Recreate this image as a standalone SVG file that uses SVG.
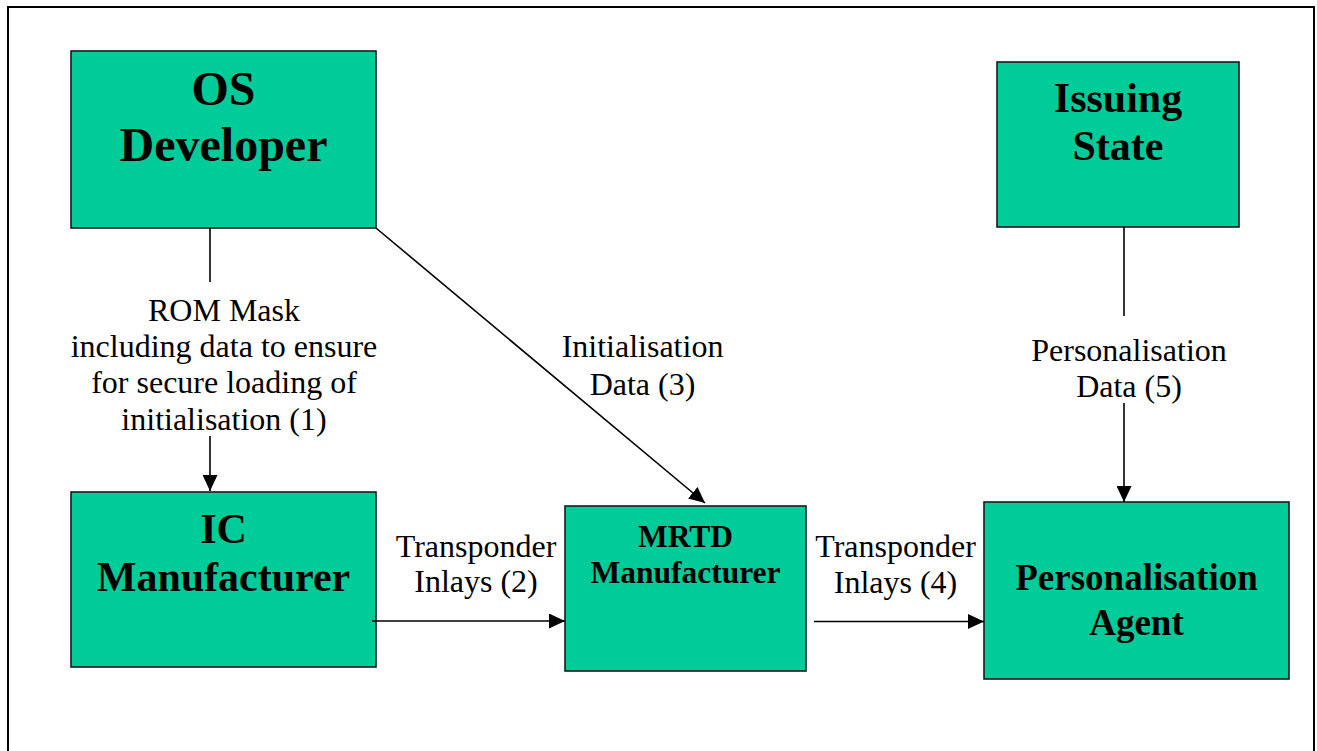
<svg xmlns="http://www.w3.org/2000/svg" width="1317" height="751" viewBox="0 0 1317 751">
<style>
.box{fill:#00CC99;stroke:#1a1a1a;stroke-width:1.6}
.bt{font-family:"Liberation Serif","Times New Roman",serif;font-weight:bold;fill:#000;text-anchor:middle}
.lt{font-family:"Liberation Serif","Times New Roman",serif;font-size:32px;fill:#000;text-anchor:middle}
.ln{stroke:#000;stroke-width:1.6;fill:none}
</style>
<defs>
<marker id="ah" markerUnits="userSpaceOnUse" markerWidth="17" markerHeight="15" refX="16" refY="7.5" orient="auto">
<path d="M0,0 L16,7.5 L0,15 Z" fill="#000"/>
</marker>
</defs>
<rect x="0" y="0" width="1317" height="751" fill="#fff"/>
<rect id="frame" x="8" y="7" width="1306" height="760" fill="none" stroke="#000" stroke-width="2"/>
<g id="os-developer">
<rect class="box" x="71" y="51" width="305" height="177"/>
<text class="bt" font-size="48" x="223.5" y="105">OS</text>
<text class="bt" font-size="48" x="223.5" y="161">Developer</text>
</g>
<g id="issuing-state">
<rect class="box" x="997" y="62" width="242" height="165"/>
<text class="bt" font-size="42" x="1118" y="112">Issuing</text>
<text class="bt" font-size="42" x="1118" y="160">State</text>
</g>
<g id="ic-manufacturer">
<rect class="box" x="71" y="492" width="305" height="175"/>
<text class="bt" font-size="42" x="223.5" y="543">IC</text>
<text class="bt" font-size="42" x="223.5" y="591">Manufacturer</text>
</g>
<g id="mrtd-manufacturer">
<rect class="box" x="565" y="506" width="241" height="165"/>
<text class="bt" font-size="31.5" x="685.5" y="547">MRTD</text>
<text class="bt" font-size="31.5" x="685.5" y="583">Manufacturer</text>
</g>
<g id="personalisation-agent">
<rect class="box" x="984" y="502" width="305" height="177"/>
<text class="bt" font-size="37" x="1136.5" y="590">Personalisation</text>
<text class="bt" font-size="37" x="1136.5" y="635">Agent</text>
</g>
<g id="connectors">
<line class="ln" x1="210" y1="228" x2="210" y2="282"/>
<line class="ln" x1="210" y1="436" x2="210" y2="491" marker-end="url(#ah)"/>
<line class="ln" x1="376" y1="228" x2="705" y2="503" marker-end="url(#ah)"/>
<line class="ln" x1="372" y1="621" x2="565" y2="621" marker-end="url(#ah)"/>
<line class="ln" x1="814" y1="621.5" x2="984" y2="621.5" marker-end="url(#ah)"/>
<line class="ln" x1="1124" y1="227" x2="1124" y2="316"/>
<line class="ln" x1="1124" y1="403" x2="1124" y2="502" marker-end="url(#ah)"/>
</g>
<g id="labels">
<text class="lt" x="224" y="321">ROM Mask</text>
<text class="lt" x="224" y="357">including data to ensure</text>
<text class="lt" x="224" y="393">for secure loading of</text>
<text class="lt" x="224" y="430">initialisation (1)</text>
<text class="lt" x="642.5" y="357">Initialisation</text>
<text class="lt" x="642.5" y="395">Data (3)</text>
<text class="lt" x="1129" y="361">Personalisation</text>
<text class="lt" x="1129" y="397">Data (5)</text>
<text class="lt" x="476" y="557">Transponder</text>
<text class="lt" x="476" y="592">Inlays (2)</text>
<text class="lt" x="895.5" y="557">Transponder</text>
<text class="lt" x="895.5" y="593">Inlays (4)</text>
</g>
</svg>
